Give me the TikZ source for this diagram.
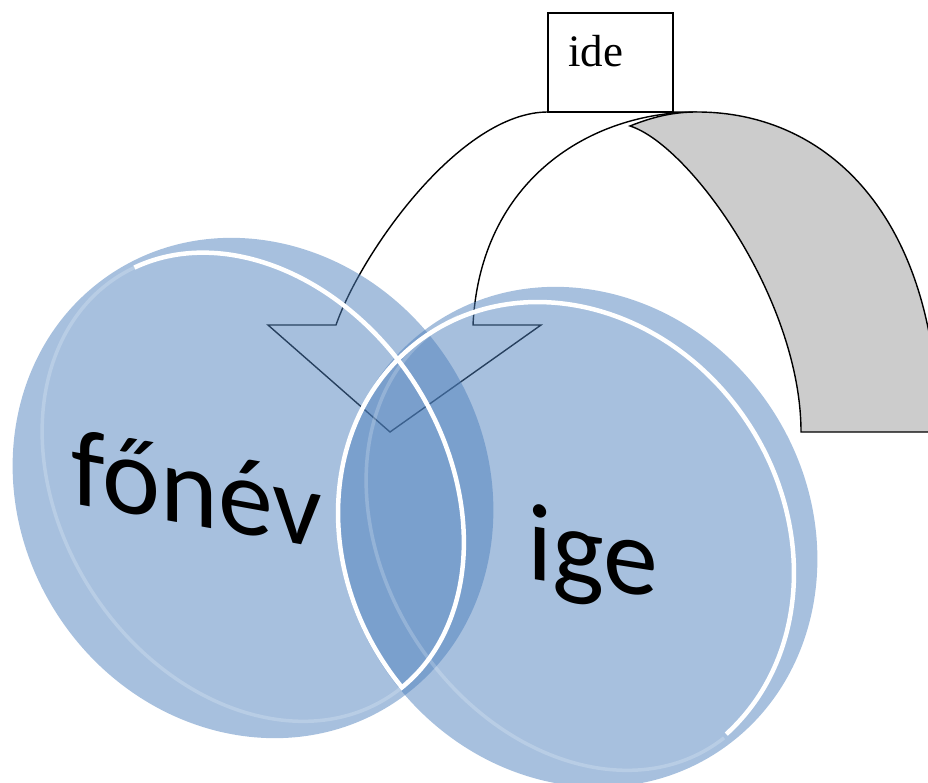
\documentclass[tikz,border=0pt]{standalone}
\usepackage{fontspec}
\newfontfamily\setfont{Carlito}
\newfontfamily\boxfont{Liberation Serif}
\definecolor{setblue}{RGB}{79,129,189}
\definecolor{sidegray}{RGB}{204,204,204}

\begin{document}
\begin{tikzpicture}[x=1pt,y=-1pt,
	disk/.style={fill=setblue,fill opacity=0.5},
	rim/.style={draw=white,line width=4.5pt},
	backrim/.style={draw=white,draw opacity=0.2,line width=3.5pt},
	outline/.style={draw=black,line width=1.4pt},
	setlabel/.style={font=\setfont\fontsize{110}{110}\selectfont,anchor=base west,inner sep=0pt}]
	\useasboundingbox (0,0) rectangle (928,783);
	\clip (0,0) rectangle (928,783);

	% the turning arrow and its grey side
	\draw[outline,fill=white] (268,325) -- (336,325) .. controls (361,253) and (460,112) .. (548,112) -- (697,112) .. controls (590,112) and (480,180) .. (473,325) -- (541,325) -- (390,432) -- cycle;
	\draw[outline,fill=sidegray] (630,126) .. controls (655,116) and (675,112) .. (697,112) .. controls (830,112) and (938,220) .. (938,432) -- (801,432) .. controls (801,300) and (690,145) .. (630,126) -- cycle;
	\node[outline,fill=white,minimum width=125pt,minimum height=99pt,inner sep=0pt] (idebox) at (610.5,62.5) {};
	\node[font=\boxfont\fontsize{45}{45}\selectfont,anchor=base west,inner sep=0pt] (idetext) at (568,67) {ide};

	% the two sets
	\fill[disk,shift={(253,488)},rotate=-57] (0,0) ellipse [x radius=257, y radius=233];
	\fill[disk,shift={(577,537)},rotate=-57] (0,0) ellipse [x radius=257, y radius=233];

	% rims: faint back part, white front part
	\draw[backrim,shift={(253,487)},rotate=-57] (-4:250 and 192) arc[start angle=-4, end angle=186, x radius=250, y radius=192];
	\draw[backrim,shift={(577,536)},rotate=-57] (-4:250 and 192) arc[start angle=-4, end angle=186, x radius=250, y radius=192];
	\draw[rim,shift={(253,487)},rotate=-57] (186:250 and 192) arc[start angle=186, end angle=356, x radius=250, y radius=192];
	\draw[rim,shift={(566,543)},rotate=-57] (83:250 and 218) arc[start angle=83, end angle=352, x radius=250, y radius=218];

	\node[setlabel,yslant=-0.18] (noun) at (71,503) {főnév};
	\node[setlabel,yslant=-0.155] (verb) at (527,578) {ige};
\end{tikzpicture}
\end{document}
